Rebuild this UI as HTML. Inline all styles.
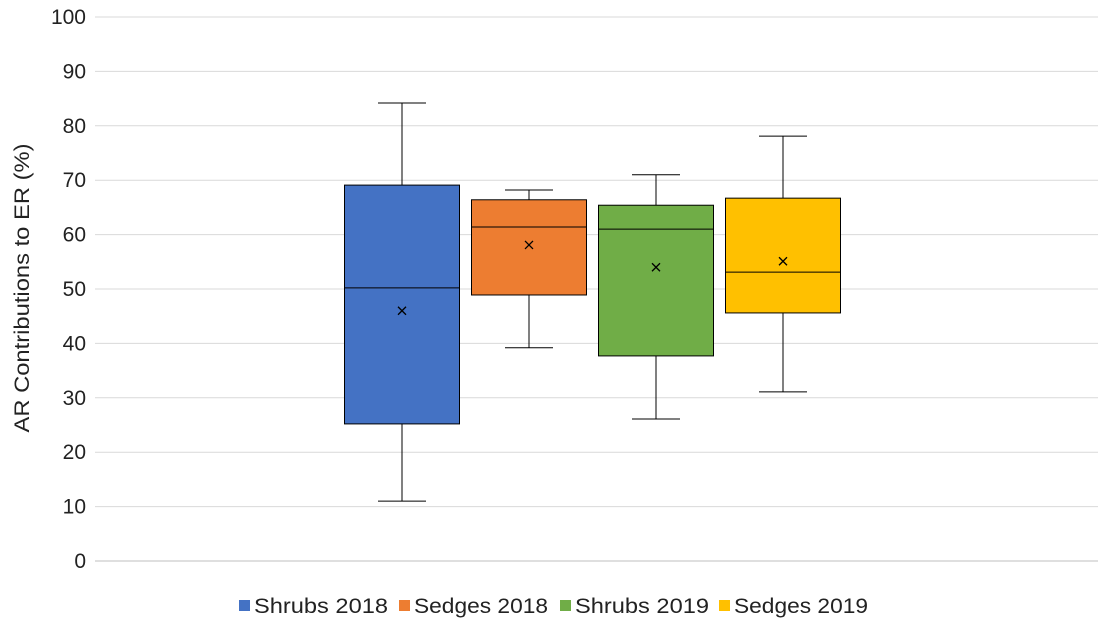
<!DOCTYPE html>
<html><head><meta charset="utf-8"><style>
body{margin:0;background:#fff;font-family:"Liberation Sans",sans-serif}
</style></head><body>
<svg id="chart" width="1109" height="630" xmlns="http://www.w3.org/2000/svg" font-family="Liberation Sans, sans-serif"></svg>
<script>
const series=["Shrubs 2018","Sedges 2018","Shrubs 2019","Sedges 2019"];
const colors=["#4472C4","#ED7D31","#70AD47","#FFC000"];
const mins=[11,39.2,26.1,31.1];
const q1s=[25.2,48.9,37.7,45.6];
const medians=[50.2,61.4,61,53.1];
const q3s=[69.1,66.4,65.4,66.7];
const maxs=[84.2,68.2,71,78.1];
const means=[46,58.1,54,55.1];
const yTicks=[0,10,20,30,40,50,60,70,80,90,100];
const NS="http://www.w3.org/2000/svg";
const svg=document.getElementById('chart');
const X0=95,X1=1098,Y0=561,Y1=17;
const y=v=>Y0-(v/100)*(Y0-Y1);
function mk(t,a){const e=document.createElementNS(NS,t);for(const k in a)e.setAttribute(k,a[k]);svg.appendChild(e);return e;}
yTicks.forEach(t=>{
 const g=mk('line',{x1:X0,x2:X1,y1:y(t),y2:y(t),stroke:t===0?'#bfbfbf':'#d9d9d9','stroke-width':1});
 
 
 const l=mk('text',{x:86,y:y(t)+7,'text-anchor':'end','font-size':21,fill:'#222'});
 l.textContent=t;
 
 
});
const yt=mk('text',{x:0,y:0,transform:'translate(29,288) rotate(-90)','text-anchor':'middle','font-size':21,fill:'#222',textLength:289,lengthAdjust:'spacingAndGlyphs'});
yt.textContent='AR Contributions to ER (%)';


const bw=115,step=127,center=(X0+X1)/2-4;
series.forEach((s,i)=>{
 const cx=center+(i-1.5)*step;
 const st={stroke:'#000','stroke-width':1};
 const w1=mk('line',Object.assign({x1:cx,x2:cx,y1:y(maxs[i]),y2:y(q3s[i])},st));
 
 
 const w2=mk('line',Object.assign({x1:cx,x2:cx,y1:y(q1s[i]),y2:y(mins[i])},st));
 
 
 [maxs[i],mins[i]].forEach(v=>{const c=mk('line',Object.assign({x1:cx-24,x2:cx+24,y1:y(v),y2:y(v)},st));
 
 });
 const b=mk('rect',{x:cx-bw/2,y:y(q3s[i]),width:bw,height:y(q1s[i])-y(q3s[i]),fill:colors[i],stroke:'#000','stroke-width':1});
 
 
 const m=mk('line',Object.assign({x1:cx-bw/2,x2:cx+bw/2,y1:y(medians[i]),y2:y(medians[i])},st));
 
 
 const my=y(means[i]);
 const mm=mk('path',{d:`M${cx-4},${my-4}L${cx+4},${my+4}M${cx+4},${my-4}L${cx-4},${my+4}`,stroke:'#000','stroke-width':1.3});
 
 
});
const lx=[239,399,560,719];
series.forEach((s,i)=>{
 const r=mk('rect',{x:lx[i],y:600,width:11,height:11,fill:colors[i]});
 
 
 const t=mk('text',{x:lx[i]+15,y:613,'font-size':21,fill:'#222',textLength:134,lengthAdjust:'spacingAndGlyphs'});
 t.textContent=s;
 
 
});
</script>
</body></html>
